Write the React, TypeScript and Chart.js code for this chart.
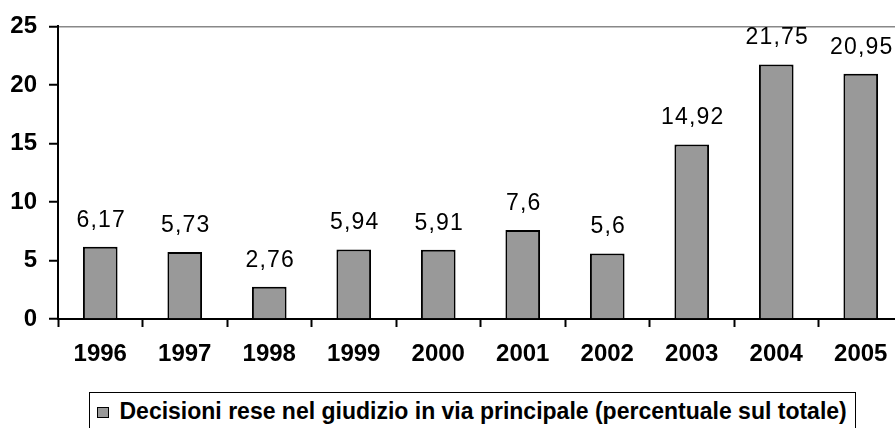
import React, { useEffect, useRef } from "react";
import { Chart, registerables } from "chart.js";

Chart.register(...registerables);

const years = ["1996", "1997", "1998", "1999", "2000", "2001", "2002", "2003", "2004", "2005"];
const values = [6.17, 5.73, 2.76, 5.94, 5.91, 7.6, 5.6, 14.92, 21.75, 20.95];
const yTickValues = [0, 5, 10, 15, 20, 25];
const seriesLabel = "Decisioni rese nel giudizio in via principale (percentuale sul totale)";

const FONT = "'Liberation Sans', Arial, sans-serif";
const BAR_FILL = "#999999";

const labelPlugin = {
  id: "valueLabels",
  afterDatasetsDraw(chart: any) {
    const ctx = chart.ctx;
    const meta = chart.getDatasetMeta(0);
    ctx.save();
    ctx.font = `normal 23px ${FONT}`;
    (ctx as any).letterSpacing = "1.2px";
    ctx.fillStyle = "#000";
    ctx.textAlign = "center";
    ctx.textBaseline = "alphabetic";
    meta.data.forEach((bar: any, i: number) => {
      const txt = String(values[i]).replace(".", ",");
      ctx.fillText(txt, bar.x + 1, bar.y - 20);
    });
    ctx.restore();
  },
};

export default function App() {
  const ref = useRef<HTMLCanvasElement>(null);

  useEffect(() => {
    if (!ref.current) return;
    const chart = new Chart(ref.current, {
      type: "bar",
      data: {
        labels: years,
        datasets: [
          {
            label: seriesLabel,
            data: values,
            backgroundColor: BAR_FILL,
            borderColor: "#000",
            borderWidth: 2,
            barPercentage: 0.41,
            categoryPercentage: 1,
          },
        ],
      },
      options: {
        animation: false,
        responsive: false,
        devicePixelRatio: 1,
        layout: { padding: { top: 26, left: 0, right: 0, bottom: 0 } },
        plugins: {
          legend: { display: false },
          tooltip: { enabled: false },
        },
        scales: {
          x: {
            grid: {
              display: true,
              offset: true,
              drawOnChartArea: false,
              drawTicks: true,
              tickLength: 8,
              tickColor: "#000",
              tickWidth: 2,
            },
            border: { display: true, color: "#000", width: 2 },
            ticks: {
              color: "#000",
              font: { family: FONT, size: 24, weight: "bold" },
              padding: 13,
              maxRotation: 0,
            },
            afterFit: (s: any) => {
              s.height = 71;
            },
          },
          y: {
            min: 0,
            max: 25,
            afterBuildTicks: (s: any) => {
              s.ticks = yTickValues.map((v) => ({ value: v }));
            },
            grid: {
              display: true,
              drawOnChartArea: true,
              drawTicks: true,
              tickLength: 9,
              tickColor: "#000",
              tickWidth: 2,
              color: (c: any) => (c.tick && c.tick.value === 25 ? "#888888" : "rgba(0,0,0,0)"),
              lineWidth: 1.5,
            },
            border: { display: true, color: "#000", width: 2 },
            ticks: {
              color: "#000",
              font: { family: FONT, size: 24, weight: "bold" },
              padding: 12,
            },
            afterFit: (s: any) => {
              s.width = 58;
            },
          },
        },
      },
      plugins: [labelPlugin],
    });
    return () => chart.destroy();
  }, []);

  return (
    <div
      style={{
        position: "fixed",
        left: 0,
        top: 0,
        width: 895,
        height: 428,
        overflow: "hidden",
        background: "#fff",
      }}
    >
      <canvas ref={ref} width={903} height={390} style={{ position: "absolute", left: 0, top: 0 }} />
      <div
        style={{
          position: "absolute",
          left: 89,
          top: 392,
          width: 767,
          height: 60,
          boxSizing: "border-box",
          border: "1.5px solid #000",
          background: "#fff",
        }}
      >
        <div
          style={{
            position: "absolute",
            left: 6.5,
            top: 13.5,
            width: 12,
            height: 11,
            boxSizing: "border-box",
            background: BAR_FILL,
            border: "1.5px solid #000",
          }}
        />
        <div
          style={{
            position: "absolute",
            left: 29.5,
            top: 5,
            fontFamily: FONT,
            fontWeight: "bold",
            fontSize: 23,
            lineHeight: "26px",
            letterSpacing: "0px",
            whiteSpace: "nowrap",
            color: "#000",
          }}
        >
          {seriesLabel}
        </div>
      </div>
    </div>
  );
}
